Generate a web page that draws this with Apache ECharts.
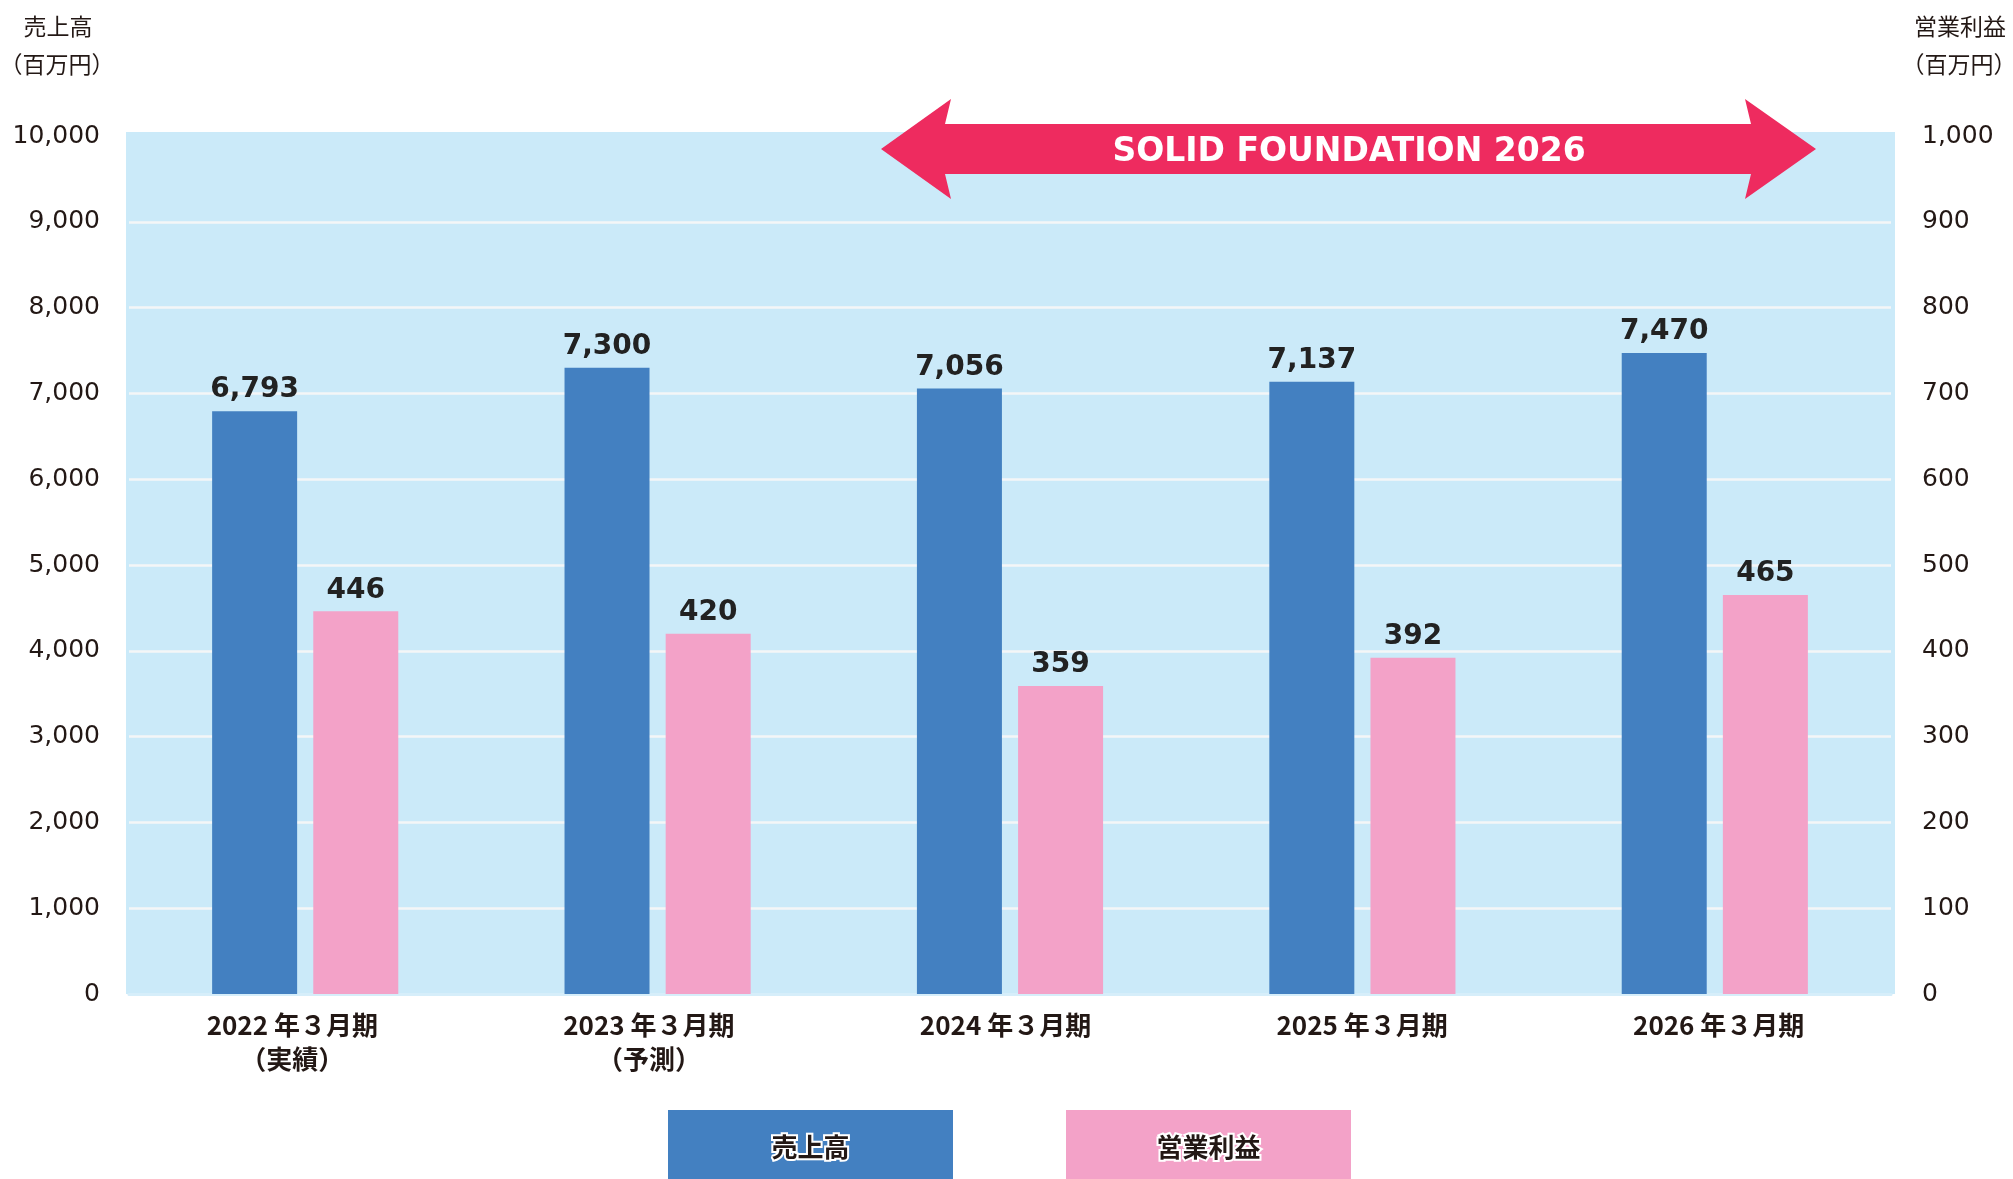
<!DOCTYPE html>
<html>
<head>
<meta charset="utf-8">
<title>売上高・営業利益</title>
<script src="https://cdn.jsdelivr.net/npm/echarts@6/dist/echarts.min.js"></script>
<style>
  html, body { margin: 0; padding: 0; background: #fff; }
  #main { width: 2013px; height: 1179px; }
</style>
</head>
<body>
<div id="main"></div>
<script>
// データ
const categories = [
  '2022 年３月期\n（実績）',
  '2023 年３月期\n（予測）',
  '2024 年３月期',
  '2025 年３月期',
  '2026 年３月期'
]
const seriesNames = ['売上高', '営業利益']
const sales = [6793, 7300, 7056, 7137, 7470]
const profit = [446, 420, 359, 392, 465]
const salesAxis = { min: 0, max: 10000, interval: 1000 }
const profitAxis = { min: 0, max: 1000, interval: 100 }
const unitLabel = '（百万円）'
const bannerText = 'SOLID FOUNDATION 2026'

const colors = ['#4380c1', '#f3a2c8']
const bgColor = '#cbeaf9'
const textColor = '#231815'
const jpFont = '"Noto Sans CJK JP", sans-serif'
const numFont = 'Verdana, "DejaVu Sans", sans-serif'

const fmt = function (v) { return Number(v).toLocaleString('en-US') }

const myChart = echarts.init(document.getElementById('main'))

// 凡例（色付きの箱の中に文字）
const legendItems = []
seriesNames.forEach(function (name, i) {
  const x = 668 + i * 398
  legendItems.push({
    type: 'rect',
    shape: { x: x, y: 1110, width: 285, height: 80 },
    style: { fill: colors[i] }
  })
  legendItems.push({
    type: 'text',
    x: x + 142.5,
    y: 1147,
    style: {
      text: name,
      fill: textColor,
      stroke: '#fff',
      lineWidth: 4,
      font: 'bold 26px ' + jpFont,
      align: 'center',
      verticalAlign: 'middle'
    }
  })
})

// 矢印バナー
const arrow = {
  type: 'polygon',
  z: 10,
  shape: {
    points: [
      [881, 149], [951, 99], [945, 124], [1751, 124], [1745, 99],
      [1816, 149], [1745, 199], [1751, 174], [945, 174], [951, 199]
    ]
  },
  style: { fill: '#ee2b5f', lineJoin: 'round' }
}

const barLabel = {
  show: true,
  position: 'top',
  distance: 7,
  color: '#222',
  fontFamily: numFont,
  fontWeight: 'bold',
  fontSize: 28,
  letterSpacing: 1,
  formatter: function (p) { return fmt(p.value) }
}

const option = {
  animation: false,
  backgroundColor: '#fff',
  // grid 0: 棒グラフ, grid 1: カテゴリ名だけ（少し幅が違う）
  grid: [
    { left: 129, right: 122, top: 136, bottom: 185 },
    { left: 114, right: 116, top: 136, bottom: 185 }
  ],
  xAxis: [
    {
      type: 'category',
      gridIndex: 0,
      data: categories,
      axisTick: { show: false },
      axisLine: { lineStyle: { color: '#d6eefa', width: 3 } },
      axisLabel: { show: false }
    },
    {
      type: 'category',
      gridIndex: 1,
      data: categories,
      axisTick: { show: false },
      axisLine: { show: false },
      axisLabel: {
        margin: 14,
        color: textColor,
        fontFamily: jpFont,
        fontWeight: 'bold',
        fontSize: 26,
        lineHeight: 34,
        verticalAlign: 'top'
      }
    }
  ],
  yAxis: [
    {
      type: 'value',
      gridIndex: 0,
      min: salesAxis.min,
      max: salesAxis.max,
      interval: salesAxis.interval,
      axisLine: { show: false },
      axisTick: { show: false },
      splitLine: { lineStyle: { color: '#f4f6f7', width: 2.5 } },
      axisLabel: {
        margin: 29,
        color: textColor,
        fontFamily: numFont,
        fontSize: 25,
        formatter: fmt
      }
    },
    {
      type: 'value',
      gridIndex: 0,
      min: profitAxis.min,
      max: profitAxis.max,
      interval: profitAxis.interval,
      axisLine: { show: false },
      axisTick: { show: false },
      splitLine: { show: false },
      axisLabel: {
        margin: 31,
        color: textColor,
        fontFamily: numFont,
        fontSize: 25,
        formatter: fmt
      }
    },
    {
      type: 'value',
      gridIndex: 1,
      show: false
    }
  ],
  series: [
    {
      name: seriesNames[0],
      type: 'bar',
      xAxisIndex: 0,
      yAxisIndex: 0,
      data: sales,
      barWidth: 85,
      barGap: '19%',
      itemStyle: { color: colors[0] },
      label: barLabel
    },
    {
      name: seriesNames[1],
      type: 'bar',
      xAxisIndex: 0,
      yAxisIndex: 1,
      data: profit,
      barWidth: 85,
      barGap: '19%',
      itemStyle: { color: colors[1] },
      label: barLabel
    }
  ],
  graphic: [
    // 背景の水色
    {
      type: 'rect',
      z: -10,
      shape: { x: 126, y: 132, width: 1769, height: 862 },
      style: { fill: bgColor }
    },
    // 上端の目盛線を背景色で隠す
    {
      type: 'rect',
      z: 5,
      shape: { x: 126, y: 132, width: 1769, height: 6 },
      style: { fill: bgColor }
    },
    {
      type: 'text',
      x: 58,
      y: 26,
      style: { text: seriesNames[0], fill: textColor, font: '23px ' + jpFont, align: 'center', verticalAlign: 'middle' }
    },
    {
      type: 'text',
      x: 57,
      y: 64,
      style: { text: unitLabel, fill: textColor, font: '23px ' + jpFont, align: 'center', verticalAlign: 'middle' }
    },
    {
      type: 'text',
      x: 1960,
      y: 26,
      style: { text: seriesNames[1], fill: textColor, font: '23px ' + jpFont, align: 'center', verticalAlign: 'middle' }
    },
    {
      type: 'text',
      x: 1959,
      y: 64,
      style: { text: unitLabel, fill: textColor, font: '23px ' + jpFont, align: 'center', verticalAlign: 'middle' }
    },
    arrow,
    {
      type: 'text',
      z: 11,
      x: 1349,
      y: 152,
      style: {
        text: bannerText,
        fill: '#fff',
        font: 'bold 33px ' + numFont,
        letterSpacing: 2.5,
        align: 'center',
        verticalAlign: 'middle'
      }
    }
  ].concat(legendItems)
}

myChart.setOption(option)

window.onresize = function () {
  myChart.resize()
}
</script>
</body>
</html>
